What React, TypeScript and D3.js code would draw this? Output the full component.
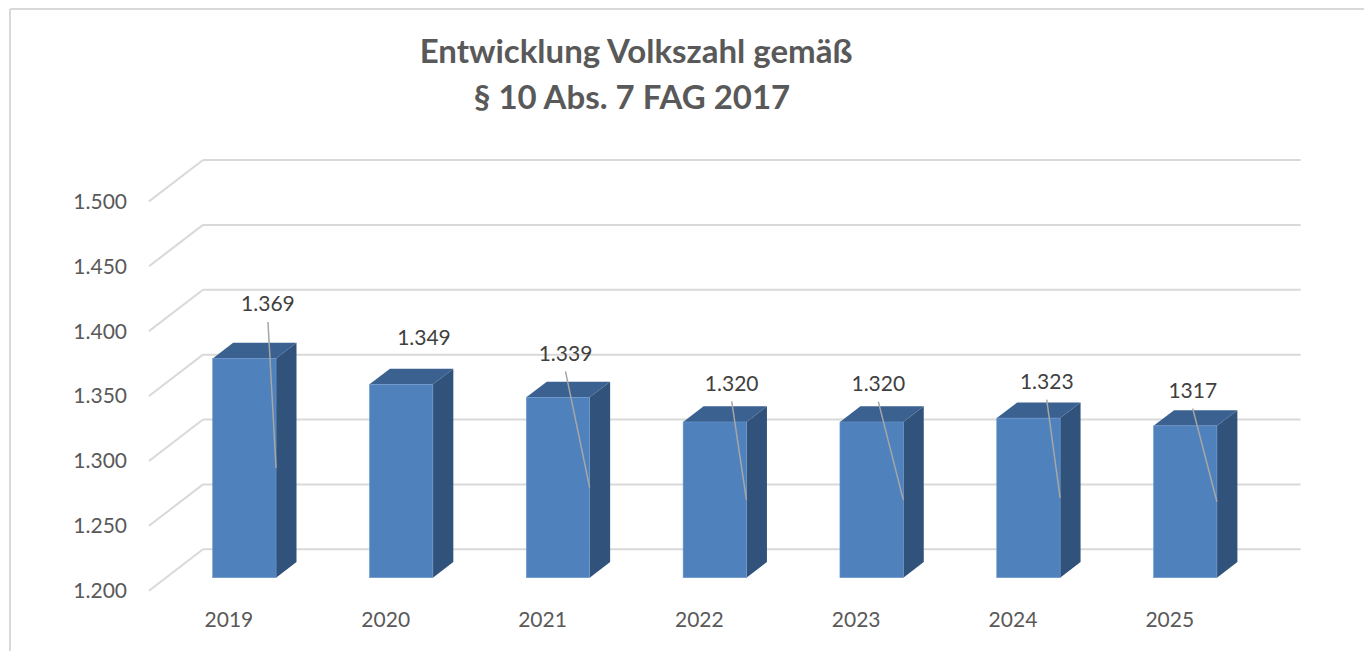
import React from "react";
import * as d3 from "d3";

// data
const years = ["2019", "2020", "2021", "2022", "2023", "2024", "2025"];
const volkszahl = [1369, 1349, 1339, 1320, 1320, 1323, 1317];
const yTicks = [1200, 1250, 1300, 1350, 1400, 1450, 1500];
const titleLines = ["Entwicklung Volkszahl gemäß", "§ 10 Abs. 7 FAG 2017"];
// the 2025 label is written without separator in the original
const unformattedLabels = ["2025"];

// label placement (labels were dragged by hand in the original)
const labelShift = [
    [23.6, -54.4],
    [22.8, -46.3],
    [7.5, -44],
    [16.9, -38.7],
    [6.7, -38.3],
    [18.3, -36.4],
    [7.5, -35.2]
];
const leaderShown = [true, false, true, true, true, true, true];

const W = 1364;
const H = 651;
const depth = { dx: -54, dy: 41.4 }; // back plane -> front edge
const barFront = 0.686; // fraction of depth where bar front face sits
const barBack = 0.307;
const fontFamily = "Lato, 'Open Sans', sans-serif";

const de = d3.formatLocale({
    decimal: ",",
    thousands: ".",
    grouping: [3],
    currency: ["", " €"]
});
const fmt = de.format(",d");

const y = d3.scaleLinear().domain([1200, 1500]).range([549.3, 160]);
const x = d3.scaleBand().domain(years).range([203, 1300.7]).padding(0);
const barW = x.bandwidth() * 0.404;

function proj(px: number, py: number, f: number): [number, number] {
    return [px + depth.dx * f, py + depth.dy * f];
}

function Bar({ year, value }: { year: string; value: number }) {
    const cx = x(year)! + x.bandwidth() / 2;
    const x0 = cx - barW / 2;
    const x1 = cx + barW / 2;
    const yt = y(value);
    const yb = y(1200);
    const flt = proj(x0, yt, barFront);
    const frt = proj(x1, yt, barFront);
    const frb = proj(x1, yb, barFront);
    const blt = proj(x0, yt, barBack);
    const brt = proj(x1, yt, barBack);
    const brb = proj(x1, yb, barBack);
    const pts = (a: number[][]) => a.map(p => p.join(",")).join(" ");
    return (
        <g>
            <polygon points={pts([frb, frt, brt, brb])} fill="#31527b" />
            <polygon points={pts([flt, frt, brt, blt])} fill="#3b6190" />
            <rect
                x={flt[0]}
                y={flt[1]}
                width={barW}
                height={frb[1] - frt[1]}
                fill="#4f81bd"
                stroke="#6e98cc"
                strokeWidth={0.6}
            />
        </g>
    );
}

export default function App() {
    return (
        <div style={{ position: "absolute", left: 0, top: 0 }}>
            <svg width={W} height={H} style={{ display: "block", background: "#fff" }}>
                <line x1={10} y1={9} x2={W} y2={9} stroke="#d9d9d9" strokeWidth={2} />
                <line x1={10} y1={9} x2={10} y2={H} stroke="#d9d9d9" strokeWidth={2} />

                {titleLines.map((t, i) => (
                    <text
                        key={t}
                        x={i === 0 ? 636 : 632}
                        y={63 + i * 46}
                        textAnchor="middle"
                        fontFamily={fontFamily}
                        fontWeight="bold"
                        fontSize={33}
                        fill="#595959"
                    >
                        {t}
                    </text>
                ))}

                {/* gridlines: back wall + side diagonal */}
                {yTicks.map(t => {
                    const [fx, fy] = proj(x.range()[0], y(t), 1);
                    return (
                        <g key={t} stroke="#d9d9d9" strokeWidth={2} fill="none">
                            <line x1={x.range()[0]} y1={y(t)} x2={x.range()[1]} y2={y(t)} />
                            <line x1={fx} y1={fy} x2={x.range()[0]} y2={y(t)} />
                        </g>
                    );
                })}

                {yTicks.map(t => {
                    const [fx, fy] = proj(x.range()[0], y(t), 1);
                    return (
                        <text
                            key={"l" + t}
                            x={fx - 22}
                            y={fy}
                            dy="0.35em"
                            textAnchor="end"
                            fontFamily={fontFamily}
                            fontSize={21}
                            fill="#595959"
                        >
                            {fmt(t)}
                        </text>
                    );
                })}

                {years.map((yr, i) => (
                    <Bar key={yr} year={yr} value={volkszahl[i]} />
                ))}

                {years.map(yr => {
                    const [cx, cy] = proj(x(yr)! + x.bandwidth() / 2, y(1200), 1);
                    return (
                        <text
                            key={"c" + yr}
                            x={cx + 1.5}
                            y={cy + 29}
                            dy="0.35em"
                            textAnchor="middle"
                            fontFamily={fontFamily}
                            fontSize={21}
                            fill="#595959"
                        >
                            {yr}
                        </text>
                    );
                })}

                {years.map((yr, i) => {
                    const v = volkszahl[i];
                    const cx = x(yr)! + x.bandwidth() / 2;
                    const [fcx, fty] = proj(cx, y(v), barFront);
                    const [, fby] = proj(cx, y(1200), barFront);
                    const lx = fcx + labelShift[i][0];
                    const ly = fty + labelShift[i][1];
                    const label = unformattedLabels.includes(yr) ? String(v) : fmt(v);
                    return (
                        <g key={"d" + yr}>
                            {leaderShown[i] && (
                                <line
                                    x1={lx}
                                    y1={ly + 18}
                                    x2={fcx + barW / 2}
                                    y2={(fty + fby) / 2}
                                    stroke="#a6a6a6"
                                    strokeWidth={1.5}
                                />
                            )}
                            <text
                                x={lx}
                                y={ly}
                                dy="0.35em"
                                textAnchor="middle"
                                fontFamily={fontFamily}
                                fontSize={21}
                                fill="#404040"
                            >
                                {label}
                            </text>
                        </g>
                    );
                })}
            </svg>
        </div>
    );
}
